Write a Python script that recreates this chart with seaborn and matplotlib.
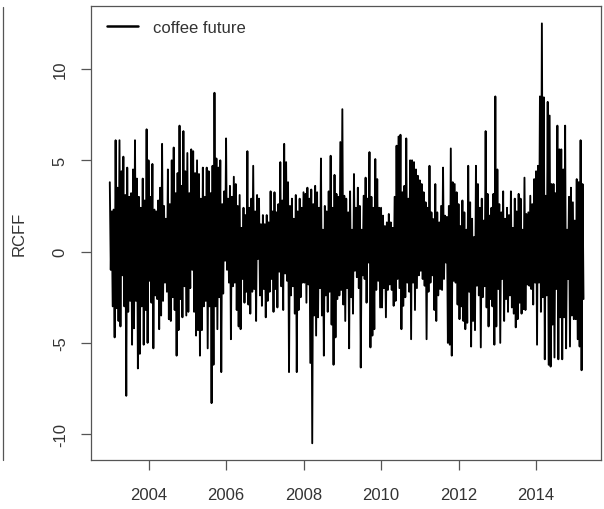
import numpy as np
import pandas as pd
import matplotlib
matplotlib.use("Agg")
import matplotlib.pyplot as plt
import matplotlib.dates as mdates
from matplotlib.lines import Line2D
import seaborn as sns

# ---- data: per-year upper / lower swings (about every 18 days) ----
years = [2003, 2004, 2005, 2006, 2007, 2008, 2009, 2010, 2011, 2012, 2013, 2014, 2015]

hi_2003 = [3.8, 2.2, 2.3, 6.1, 3.5, 6.1, 4.4, 5.2, 3.1, 4.6, 3.0, 3.2, 4.5, 6.1, 4.0, 3.0, 2.4, 4.0, 2.8, 6.7]
lo_2003 = [-1.0, -3.0, -4.7, -3.1, -3.8, -4.1, -1.3, -3.0, -7.9, -3.3, -2.7, -5.1, -4.2, -2.7, -6.4, -5.6, -3.0, -5.1, -3.2, -5.0]
hi_2004 = [5.0, 3.0, 4.8, 2.3, 2.2, 2.8, 3.5, 5.9, 2.5, 1.8, 4.5, 2.6, 5.0, 5.7, 3.2, 4.3, 6.9, 3.6, 6.6, 4.4]
lo_2004 = [-1.6, -2.8, -5.3, -2.4, -2.6, -4.25, -3.5, -2.7, -1.7, -2.2, -3.7, -3.8, -2.5, -3.2, -5.7, -4.3, -2.6, -3.6, -1.9, -3.5]
hi_2005 = [5.4, 3.2, 5.6, 5.5, 4.3, 5.0, 4.25, 2.9, 4.6, 3.0, 4.6, 4.4, 3.2, 4.7, 8.7, 5.1, 4.6, 5.0, 2.6, 3.3]
lo_2005 = [-3.3, -2.0, -1.0, -3.3, -4.6, -4.3, -5.7, -4.3, -3.0, -2.7, -5.3, -3.0, -8.3, -6.2, -3.0, -4.25, -2.5, -6.6, -2.3, -0.5]
hi_2006 = [6.2, 2.9, 3.6, 3.0, 4.1, 3.7, 2.5, 3.1, 1.3, 2.4, 2.0, 5.5, 2.4, 2.9, 4.7, 2.2, 3.1, 2.9, 1.5, 2.0]
lo_2006 = [-1.0, -1.7, -4.8, -1.9, -1.7, -3.2, -4.1, -4.25, -1.5, -2.8, -2.2, -2.9, -3.4, -2.2, -2.05, -3.8, -0.4, -2.4, -2.97, -2.05]
hi_2007 = [1.5, 2.0, 1.6, 3.3, 2.2, 3.25, 2.15, 2.6, 4.9, 2.8, 5.9, 4.9, 3.8, 2.5, 2.9, 1.8, 3.1, 2.2, 2.9, 2.4]
lo_2007 = [-3.6, -2.7, -2.2, -1.5, -3.3, -2.05, -3.06, -1.1, -1.9, -3.2, -1.2, -1.6, -6.6, -2.4, -1.9, -3.4, -6.6, -3.2, -2.5, -1.7]
hi_2008 = [3.25, 3.16, 3.5, 2.9, 3.4, 2.6, 3.6, 3.25, 2.4, 5.1, 1.2, 2.5, 2.2, 3.3, 5.25, 2.4, 4.2, 3.16, 3.0, 6.0]
lo_2008 = [-1.7, -2.8, -1.8, -6.1, -10.5, -3.5, -4.6, -3.6, -2.0, -3.5, -5.7, -2.4, -3.3, -2.2, -4.0, -6.2, -4.7, -2.6, -2.4, -2.1]
hi_2009 = [7.8, 3.06, 2.9, 2.15, 3.3, 1.2, 4.25, 2.4, 3.5, 2.5, 1.2, 3.06, 4.05, 2.9, 5.45, 3.0, 2.4, 5.07, 3.97, 2.4]
lo_2009 = [-2.9, -3.8, -2.0, -5.3, -2.5, -3.4, -1.05, -1.4, -2.0, -6.35, -1.3, -1.5, -2.8, -0.6, -5.25, -4.6, -4.25, -2.1, -1.6, -3.06]
hi_2010 = [2.4, 1.97, 1.4, 1.6, 2.06, 1.6, 1.3, 3.0, 5.8, 6.3, 6.4, 3.25, 3.6, 6.2, 2.9, 5.0, 5.0, 4.9, 4.5, 4.15]
lo_2010 = [-3.06, -2.0, -3.6, -2.1, -1.8, -2.1, -2.97, -2.7, -1.5, -2.0, -4.25, -2.97, -2.5, -1.7, -2.2, -4.8, -1.7, -3.2, -2.0, -1.3]
hi_2011 = [3.9, 3.7, 3.25, 2.7, 2.4, 4.7, 2.15, 1.78, 3.7, 2.15, 1.6, 2.5, 4.6, 1.97, 1.9, 2.5, 5.65, 3.8, 3.7, 3.25]
lo_2011 = [-1.05, -1.5, -1.87, -4.8, -2.2, -1.7, -1.3, -3.2, -3.8, -2.4, -2.05, -2.1, -1.5, -0.6, -5.0, -5.1, -5.7, -1.6, -1.7, -2.9]
hi_2012 = [2.6, 1.4, 2.8, 2.15, 1.2, 4.7, 2.7, 1.8, 0.8, 4.7, 3.7, 2.4, 2.9, 1.7, 6.6, 3.16, 1.97, 2.4, 3.16, 8.5]
lo_2012 = [-3.7, -3.0, -3.8, -4.25, -3.9, -2.2, -5.2, -3.8, -4.3, -1.87, -2.4, -5.25, -2.5, -1.9, -3.06, -4.1, -2.6, -3.0, -5.1, -4.1]
hi_2013 = [4.5, 2.6, 2.15, 3.3, 1.8, 2.4, 2.0, 3.3, 1.3, 2.9, 2.2, 3.16, 2.9, 1.2, 4.05, 2.06, 2.15, 3.06, 2.6, 3.97]
lo_2013 = [-2.05, -5.0, -1.5, -3.8, -2.6, -3.3, -2.4, -3.06, -3.4, -4.15, -3.7, -2.8, -3.4, -3.15, -3.2, -1.8, -1.87, -2.05, -2.9, -1.7]
hi_2014 = [4.4, 4.7, 8.5, 12.5, 8.45, 3.06, 8.2, 7.45, 3.7, 3.7, 3.2, 6.9, 5.6, 5.6, 4.5, 6.9, 1.2, 3.0, 3.5, 2.7]
lo_2014 = [-5.1, -1.7, -3.3, -2.5, -5.9, -2.4, -6.2, -6.3, -4.0, -5.8, -2.05, -5.9, -3.6, -5.9, -3.6, -5.3, -1.5, -5.2, -3.5, -3.7]
hi_2015 = [1.7, 3.97, 3.8, 6.1, 3.7]
lo_2015 = [-3.7, -4.8, -5.2, -6.5, -2.6]

series_label = "coffee future"
y_label = "RCFF"
x_ticks = [2004, 2006, 2008, 2010, 2012, 2014]
y_ticks = [-10, -5, 0, 5, 10]

hi_by_year = [hi_2003, hi_2004, hi_2005, hi_2006, hi_2007, hi_2008, hi_2009,
              hi_2010, hi_2011, hi_2012, hi_2013, hi_2014, hi_2015]
lo_by_year = [lo_2003, lo_2004, lo_2005, lo_2006, lo_2007, lo_2008, lo_2009,
              lo_2010, lo_2011, lo_2012, lo_2013, lo_2014, lo_2015]

# build a long table: alternating up / down swings through each year
step = 365.25 / 20.0
dates, vals = [], []
for yr, his, los in zip(years, hi_by_year, lo_by_year):
    start = pd.Timestamp(f"{yr}-01-01")
    for k, (h, l) in enumerate(zip(his, los)):
        dates.append(start + pd.Timedelta(days=k * step))
        vals.append(h)
        dates.append(start + pd.Timedelta(days=k * step + step / 2))
        vals.append(l)
df = pd.DataFrame({"date": dates, "RCFF": vals})

# ---- drawing ----
sns.set_theme(style="white")
plt.rcParams["font.family"] = ["Liberation Sans", "DejaVu Sans"]
txt = "#333333"

fig = plt.figure(figsize=(6.04, 5.10), dpi=100)
ax = fig.add_axes([90.7 / 604, 1 - 460.7 / 510, (601 - 90.7) / 604, (460.7 - 6.7) / 510])

sns.lineplot(data=df, x="date", y="RCFF", ax=ax, color="black", linewidth=1.35,
             estimator=None, sort=False, label=series_label)

ax.set_xlim(pd.Timestamp("2002-07-05"), pd.Timestamp("2015-09-05"))
ax.set_ylim(-11.4, 13.47)
ax.set_xticks([pd.Timestamp(f"{y}-01-01") for y in x_ticks])
ax.xaxis.set_major_formatter(mdates.DateFormatter("%Y"))
ax.set_yticks(y_ticks)
ax.set_yticklabels([str(v) for v in y_ticks], rotation=90, va="center")
ax.set_xlabel("")
ax.set_ylabel(y_label, fontsize=12, color=txt, labelpad=19)

ax.tick_params(axis="x", which="major", direction="out", length=7.5, width=0.9,
               color="#555555", labelsize=12, labelcolor=txt, pad=12, bottom=True)
ax.tick_params(axis="y", which="major", direction="out", length=7.5, width=0.9,
               color="#555555", labelsize=12, labelcolor=txt, pad=9, left=True)
for s in ax.spines.values():
    s.set_color("#555555")
    s.set_linewidth(0.9)

leg = ax.legend(loc="upper left", bbox_to_anchor=(16.0 / 510.3, 1 - 14.0 / 454),
                borderaxespad=0, borderpad=0, frameon=False, fontsize=12,
                handlelength=1.85, handletextpad=0.95)
for t in leg.get_texts():
    t.set_color(txt)
for h in leg.get_lines():
    h.set_linewidth(1.8)

# edge of the neighbouring panel visible at the left of the screenshot
fig.add_artist(Line2D([2.5 / 604, 2.5 / 604], [1 - 460.7 / 510, 1 - 8 / 510],
                      transform=fig.transFigure, color="#555555", linewidth=0.9))

fig.savefig("out.png", dpi=100)
